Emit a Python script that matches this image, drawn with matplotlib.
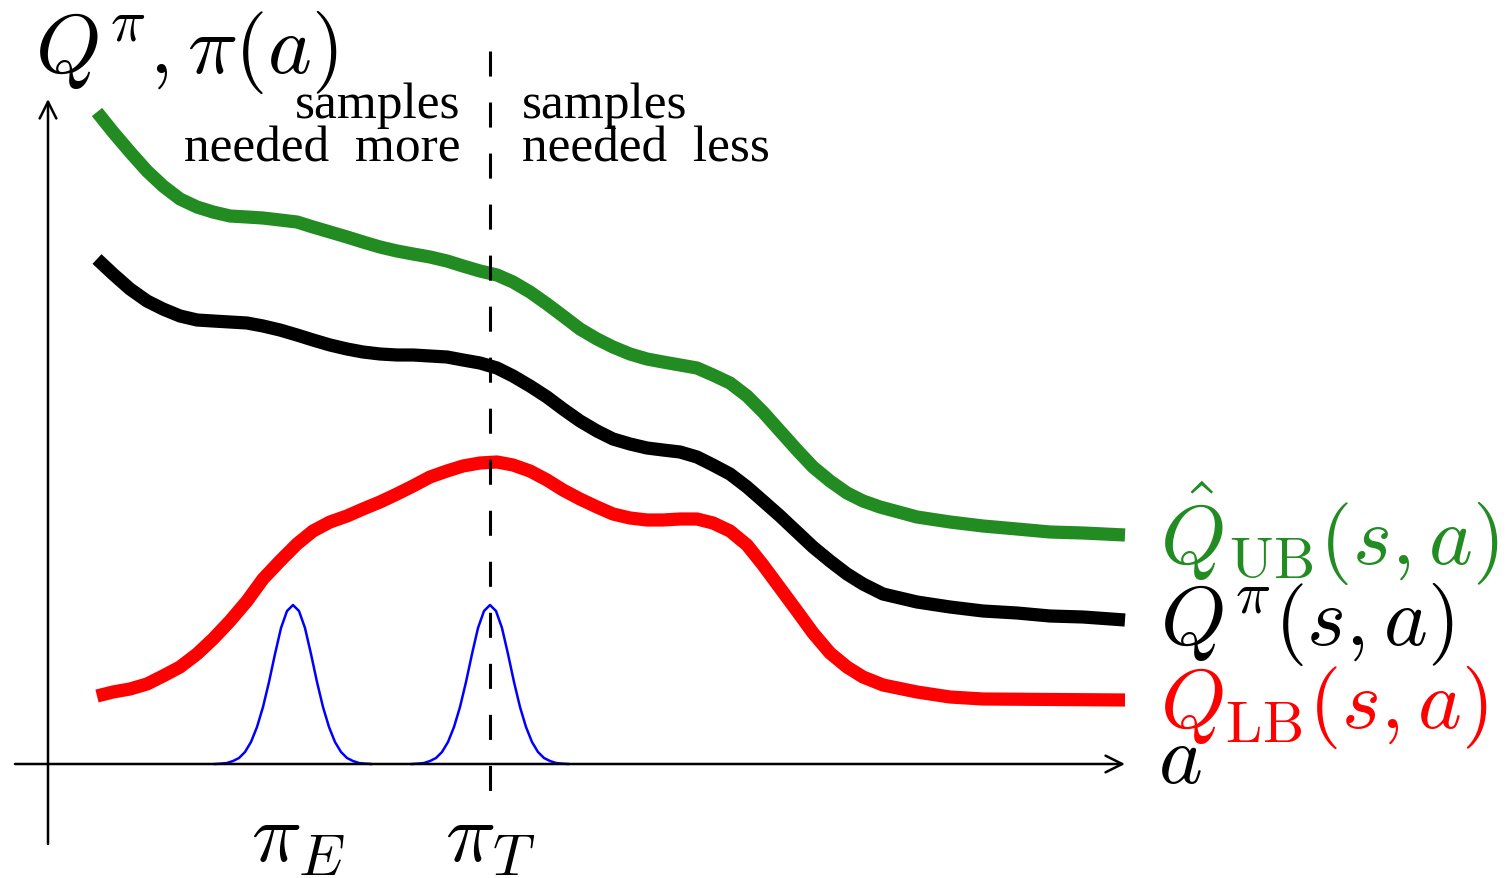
import numpy as np
import matplotlib
matplotlib.use("Agg")
import matplotlib.pyplot as plt

plt.rcParams['mathtext.fontset'] = 'cm'

# values, origin at the axes crossing
a_ub = [49, 65, 82, 99, 115, 132, 149, 165, 182, 199, 215, 232, 249, 265, 282,
        299, 315, 332, 349, 365, 382, 399, 415, 432, 449, 465, 482, 499, 515,
        532, 549, 565, 582, 599, 615, 632, 649, 665, 682, 699, 715, 732, 749,
        765, 782, 799, 815, 832, 869, 902, 935, 969, 1002, 1035, 1077]
q_ub = [652, 632, 612, 593, 578, 565, 557, 552, 548, 547, 546, 544, 542, 537,
        532, 527, 522, 517, 513, 510, 507, 503, 498, 493, 489, 482, 472, 460,
        448, 435, 425, 417, 410, 405, 402, 399, 396, 389, 381, 368, 352, 333,
        314, 297, 283, 271, 263, 257, 247, 242, 238, 235, 232, 231, 229]

a_pi = [49, 65, 82, 99, 115, 132, 149, 165, 182, 199, 215, 232, 249, 265, 282,
        299, 315, 332, 349, 365, 382, 399, 415, 432, 449, 465, 482, 499, 515,
        532, 549, 565, 582, 599, 615, 632, 649, 665, 682, 699, 715, 732, 749,
        765, 782, 799, 815, 835, 869, 902, 935, 969, 1002, 1035, 1077]
q_pi = [505, 490, 475, 463, 455, 448, 444, 443, 442, 441, 438, 434, 429, 424,
        419, 415, 412, 410, 409, 409, 408, 407, 404, 401, 396, 388, 378, 367,
        355, 343, 333, 325, 320, 316, 314, 312, 307, 299, 290, 277, 263, 248,
        232, 217, 203, 190, 180, 170, 162, 157, 153, 151, 148, 147, 144]

a_lb = [49, 65, 82, 99, 115, 132, 149, 165, 182, 199, 215, 232, 249, 265, 282,
        299, 315, 332, 349, 365, 382, 399, 415, 432, 449, 465, 482, 499, 515,
        532, 549, 565, 582, 599, 615, 632, 649, 665, 682, 699, 715, 732, 749,
        765, 782, 799, 815, 835, 869, 902, 935, 1077]
q_lb = [68, 72, 75, 80, 88, 97, 110, 125, 143, 163, 185, 203, 220, 233, 242,
        248, 255, 262, 270, 278, 287, 293, 298, 301, 302, 299, 293, 284, 274,
        265, 257, 250, 246, 244, 244, 245, 245, 241, 233, 219, 199, 176, 153,
        131, 111, 97, 87, 79, 72, 67, 65, 64]

# policy bumps: offsets from the bump centre and heights
bump_off = [-78, -72, -66, -60, -54, -48, -42, -36, -30, -24, -18, -12, -6, 0,
            6, 12, 18, 24, 30, 36, 42, 48, 54, 60, 66, 72, 78]
bump_h = [0, 0.4, 1, 3, 6, 12, 22, 37, 57, 82, 110, 136, 153, 159,
          153, 136, 110, 82, 57, 37, 22, 12, 6, 3, 1, 0.4, 0]
pi_E = 245
pi_T = 442

fig = plt.figure(figsize=(15.07, 8.79), dpi=100)
ax = fig.add_axes([0, 0, 1, 1])
ax.set_xlim(-48, 1459)
ax.set_ylim(-114, 765)
ax.axis('off')

# axes with arrows
ax.annotate('', xy=(1077, 0), xytext=(-33, 0),
            arrowprops=dict(arrowstyle='->', lw=1.8, color='black',
                            mutation_scale=30, shrinkA=0, shrinkB=0))
ax.annotate('', xy=(0, 665), xytext=(0, -80),
            arrowprops=dict(arrowstyle='->', lw=1.8, color='black',
                            mutation_scale=30, shrinkA=0, shrinkB=0))

# policies
for c in [pi_E, pi_T]:
    ax.plot(np.array(bump_off) + c, bump_h, color='blue', lw=1.8)

# value curves
ax.plot(a_ub, q_ub, color='#228B22', lw=9.5, solid_capstyle='butt',
        solid_joinstyle='round')
ax.plot(a_pi, q_pi, color='black', lw=9.5, solid_capstyle='butt',
        solid_joinstyle='round')
ax.plot(a_lb, q_lb, color='red', lw=9.5, solid_capstyle='butt',
        solid_joinstyle='round')

# dashed split at pi_T
ax.plot([pi_T, pi_T], [713, -32], color='black', lw=2.2,
        linestyle=(0, (8.2, 8.5)))

# labels
ax.text(-13, 692, r'$Q^{\pi}, \pi(a)$', fontsize=60, va='baseline')
serif = dict(fontsize=37, family='Liberation Serif', va='baseline')
ax.text(412, 647, 'samples', ha='right', **serif)
ax.text(412, 603, 'needed  more', ha='right', **serif)
ax.text(474, 647, 'samples', ha='left', **serif)
ax.text(474, 603, 'needed  less', ha='left', **serif)

ax.text(1112, 200, r'$\hat{Q}_{\mathrm{UB}}(s,a)$', fontsize=60,
        color='#228B22', va='baseline')
ax.text(1112, 120, r'$Q^{\pi}(s,a)$', fontsize=60, color='black',
        va='baseline')
ax.text(1112, 37, r'$Q_{\mathrm{LB}}(s,a)$', fontsize=60, color='red',
        va='baseline')
ax.text(1110, -18, r'$a$', fontsize=60, va='baseline')

ax.text(pi_E + 5, -97, r'$\pi_E$', fontsize=60, ha='center', va='baseline')
ax.text(pi_T, -97, r'$\pi_T$', fontsize=60, ha='center', va='baseline')

fig.savefig('out.png', dpi=100)
